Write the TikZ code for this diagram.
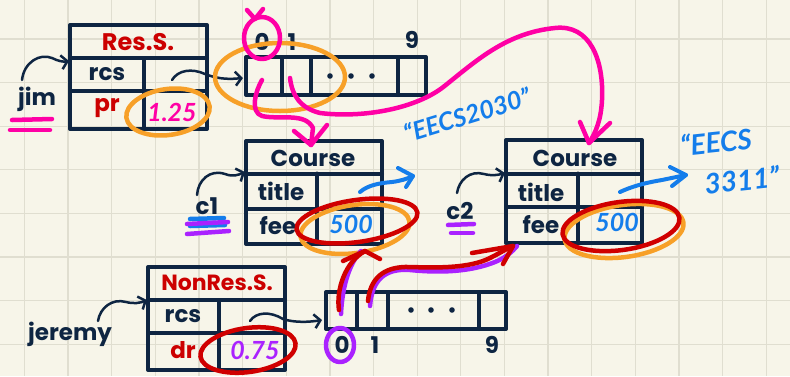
\documentclass[tikz,border=0pt]{standalone}
\usepackage{fontspec}
\setmainfont{Poppins}
\newfontfamily\handfont{Lato}
\usetikzlibrary{arrows.meta}
\definecolor{paper}{RGB}{247,245,233}
\definecolor{gridc}{RGB}{224,222,208}
\definecolor{navy}{RGB}{14,37,66}
\definecolor{redtxt}{RGB}{204,0,0}
\definecolor{pinkm}{RGB}{255,0,165}
\definecolor{orangem}{RGB}{247,160,40}
\definecolor{purplem}{RGB}{170,34,255}
\definecolor{bluem}{RGB}{20,125,235}
\definecolor{redm}{RGB}{208,0,0}
\begin{document}
\begin{tikzpicture}[x=1pt,y=-1pt,
  box/.style={draw=navy,line width=4pt,line join=round,line cap=round},
  lbl/.style={text=navy,font=\bfseries\fontsize{23}{25}\selectfont,inner sep=0pt},
  rlbl/.style={lbl,text=redtxt},
  hand/.style={inner sep=0pt,font=\handfont\bfseries\itshape\fontsize{25}{27}\selectfont},
  bighand/.style={inner sep=0pt,font=\handfont\bfseries\itshape\fontsize{28}{30}\selectfont},
  navyarrow/.style={draw=navy,line width=2.5pt,line cap=round,line join=round,-{Straight Barb[length=6pt,width=14pt]}},
  marker/.style={line width=4.5pt,line cap=round,line join=round},
]
\useasboundingbox (0,0) rectangle (790,376);
\fill[paper] (0,0) rectangle (790,376);
\foreach \k in {0,...,17} \draw[gridc,line width=1.3pt] ({24.3+43.65*\k},0) -- ({24.3+43.65*\k},376);
\foreach \k in {0,...,7} \draw[gridc,line width=1.3pt] (0,{39+43.6*\k}) -- (790,{39+43.6*\k});

% ---------- Res.S. box ----------
\draw[box] (70,25) rectangle (207,129);
\draw[box] (70,58) -- (207,58) (70,91) -- (207,91) (144,58) -- (144,129);
\node[rlbl,font=\bfseries\fontsize{24}{26}\selectfont] (resS) at (138,42) {Res.S.};
\node[lbl] (rcsA) at (107,74) {rcs};
\node[rlbl] (pr) at (107,108) {pr};
\node[lbl] (jim) at (37,99) {jim};

% ---------- top array ----------
\draw[box] (246,57) rectangle (426,95);
\draw[box] (282,57) -- (282,95) (311,57) -- (311,95) (398,57) -- (398,95);
\fill[navy] (330,76) circle (2.8) (351,76) circle (2.8) (372,76) circle (2.8);
\node[lbl] (ta0) at (262,42) {0};
\node[lbl] (ta1) at (292,42) {1};
\node[lbl] (ta9) at (412,40) {9};

% ---------- Course c1 ----------
\draw[box] (246,141) rectangle (382,244);
\draw[box] (246,173.5) -- (382,173.5) (246,208.5) -- (382,208.5) (317,173.5) -- (317,244);
\node[lbl] (courseA) at (313,158) {Course};
\node[lbl] (titleA) at (281,191) {title};
\node[lbl] (feeA) at (278,226) {fee};
\node[lbl] (cone) at (207,206) {c1};

% ---------- Course c2 ----------
\draw[box] (506,140) rectangle (642,243);
\draw[box] (506,173.5) -- (642,173.5) (506,207) -- (642,207) (578,173.5) -- (578,243);
\node[lbl] (courseB) at (575,158) {Course};
\node[lbl] (titleB) at (541,192) {title};
\node[lbl] (feeB) at (541,225) {fee};
\node[lbl] (ctwo) at (460,211) {c2};

% ---------- NonRes.S. box ----------
\draw[box] (148,267) rectangle (285,370);
\draw[box] (148,300) -- (285,300) (148,333) -- (285,333) (219,300) -- (219,370);
\node[rlbl,font=\bfseries\fontsize{22}{24}\selectfont] (nonres) at (217,283) {NonRes.S.};
\node[lbl] (rcsB) at (183,316) {rcs};
\node[rlbl] (dr) at (183,350) {dr};
\node[lbl] (jeremy) at (70,334) {jeremy};

% ---------- bottom array ----------
\draw[box] (326,292) rectangle (506,329);
\draw[box] (357,292) -- (357,329) (388,292) -- (388,329) (479,292) -- (479,329);
\fill[navy] (411,310) circle (2.8) (431,310) circle (2.8) (452,310) circle (2.8);
\node[lbl] (ba0) at (342,345) {0};
\node[lbl] (ba1) at (375,345) {1};
\node[lbl] (ba9) at (492,345) {9};

% ---------- navy pointer arrows ----------
\coordinate (jimS) at (22,80);   \coordinate (jimE) at (69,61);
\coordinate (rcsAS) at (172,80); \coordinate (rcsAE) at (243,78);
\coordinate (c1S) at (197,195);  \coordinate (c1E) at (245,172);
\coordinate (c2S) at (457,193);  \coordinate (c2E) at (505,173);
\coordinate (jerS) at (98,321);  \coordinate (jerE) at (147,300);
\coordinate (rcsBS) at (250,321);\coordinate (rcsBE) at (322,320);
\draw[navyarrow] (jimS) .. controls (24,62) and (40,53) .. (52,58) .. controls (58,61) and (63,62) .. (jimE);
\draw[navyarrow] (rcsAS) .. controls (178,70) and (192,68) .. (205,74) .. controls (220,80) and (232,79) .. (rcsAE);
\draw[navyarrow] (c1S) .. controls (198,180) and (210,169) .. (225,174) .. controls (233,177) and (238,175) .. (c1E);
\draw[navyarrow] (c2S) .. controls (459,180) and (470,170) .. (484,174) .. controls (492,176) and (498,175) .. (c2E);
\draw[navyarrow] (jerS) .. controls (100,308) and (112,298) .. (126,302) .. controls (134,304) and (140,303) .. (jerE);
\draw[navyarrow] (rcsBS) .. controls (256,312) and (270,311) .. (283,319) .. controls (295,323) and (310,322) .. (rcsBE);

% ---------- orange ellipses ----------
\draw[marker,orangem] (280,77) ellipse (65 and 34);
\draw[marker,orangem,rotate around={8:(168,112)}] (168,112) ellipse (42 and 23);
\draw[marker,orangem,rotate around={8:(355,229)}] (355,229) ellipse (55 and 24);
\draw[marker,orangem,rotate around={8:(624,231)}] (624,231) ellipse (60 and 26);

% ---------- handwritten values ----------
\node[hand,text=pinkm] (vpr) at (172,112) {1.25};
\node[hand,text=bluem] (vfeeA) at (351,224) {500};
\node[hand,text=bluem] (vfeeB) at (617,222) {500};
\node[hand,text=purplem] (vdr) at (255,350) {0.75};
\node[hand,text=bluem,rotate=17] (eecsA) at (467,115) {“EECS2030”};
\node[bighand,text=bluem,rotate=6] (eecsB) at (716,142) {“EECS};
\node[bighand,text=bluem,rotate=6] (eecsC) at (742,180) {3311”};

% ---------- red ellipses ----------
\draw[marker,redm,rotate around={8:(357,221)}] (357,221) ellipse (61 and 21);
\draw[marker,redm,rotate around={8:(621,226)}] (621,226) ellipse (59 and 24);
\draw[marker,redm,rotate around={8:(248,350)}] (248,350) ellipse (48 and 22);

% ---------- pink annotations ----------
\draw[marker,pinkm] (262,38) ellipse (18 and 21);
\draw[marker,pinkm] (247,10) -- (255,19) -- (263,9);
\coordinate (u1) at (12,120); \coordinate (u2) at (10,130);
\draw[marker,pinkm] (u1) -- ++(40,-1);
\draw[marker,pinkm] (u2) -- ++(40,0);
\coordinate (p0S) at (262,80); \coordinate (p0E) at (311,145);
\draw[marker,pinkm] (p0S) .. controls (255,92) and (250,112) .. (262,116) .. controls (280,120) and (305,112) .. (313,128) -- (p0E);
\draw[marker,pinkm] (294,131) -- (p0E) -- (327,125);
\coordinate (p1S) at (290,78); \coordinate (p1E) at (589,143);
\draw[marker,pinkm] (p1S) .. controls (292,95) and (300,108) .. (320,113) .. controls (360,118) and (412,110) .. (442,88) .. controls (475,62) and (505,33) .. (555,28) .. controls (590,24) and (604,60) .. (602,100) .. controls (601,120) and (596,132) .. (p1E);
\draw[marker,pinkm] (580,122) -- (p1E) -- (610,123);

% ---------- blue annotations ----------
\coordinate (bAS) at (360,192); \coordinate (bAE) at (413,176);
\draw[marker,bluem,line width=4pt] (bAS) .. controls (368,185) and (380,183) .. (392,182) .. controls (400,181) and (407,179) .. (bAE);
\draw[marker,bluem,line width=4pt] (398,168) -- (bAE) -- (406,187);
\coordinate (bBS) at (620,192); \coordinate (bBE) at (686,175);
\draw[marker,bluem,line width=4pt] (bBS) .. controls (635,185) and (650,182) .. (662,180) -- (bBE);
\draw[marker,bluem,line width=4pt] (670,167) -- (bBE) -- (672,186);
\draw[marker,bluem] (190,219) -- (224,218);
\draw[marker,bluem] (190,226) -- (225,225);

% ---------- purple annotations ----------
\draw[marker,purplem] (187,224) -- (228,222);
\draw[marker,purplem] (187,234) -- (229,231);
\draw[marker,purplem] (448,225) -- (474,224);
\draw[marker,purplem] (451,233) -- (473,233);
\draw[marker,purplem] (340,345) ellipse (14 and 17);
\coordinate (q0S) at (341,314); \coordinate (q0E) at (361,251);
\draw[marker,purplem] (q0S) .. controls (342,290) and (348,265) .. (q0E);
\coordinate (q1S) at (370,306); \coordinate (q1E) at (517,246);
\draw[marker,purplem] (q1S) .. controls (372,280) and (385,268) .. (410,270) .. controls (440,273) and (470,272) .. (495,262) .. controls (505,258) and (512,252) .. (q1E);

% ---------- red arrows ----------
\coordinate (r0S) at (339,310); \coordinate (r0E) at (365,251);
\draw[marker,redm] (r0S) .. controls (336,290) and (345,262) .. (r0E);
\draw[marker,redm] (343,261) -- (r0E) -- (380,259);
\coordinate (r1S) at (368,301); \coordinate (r1E) at (513,246);
\draw[marker,redm] (r1S) .. controls (370,280) and (382,266) .. (410,267) .. controls (440,268) and (470,268) .. (490,258) .. controls (500,253) and (506,249) .. (r1E);
\draw[marker,redm] (472,253) -- (r1E) -- (503,264);
\end{tikzpicture}
\end{document}
